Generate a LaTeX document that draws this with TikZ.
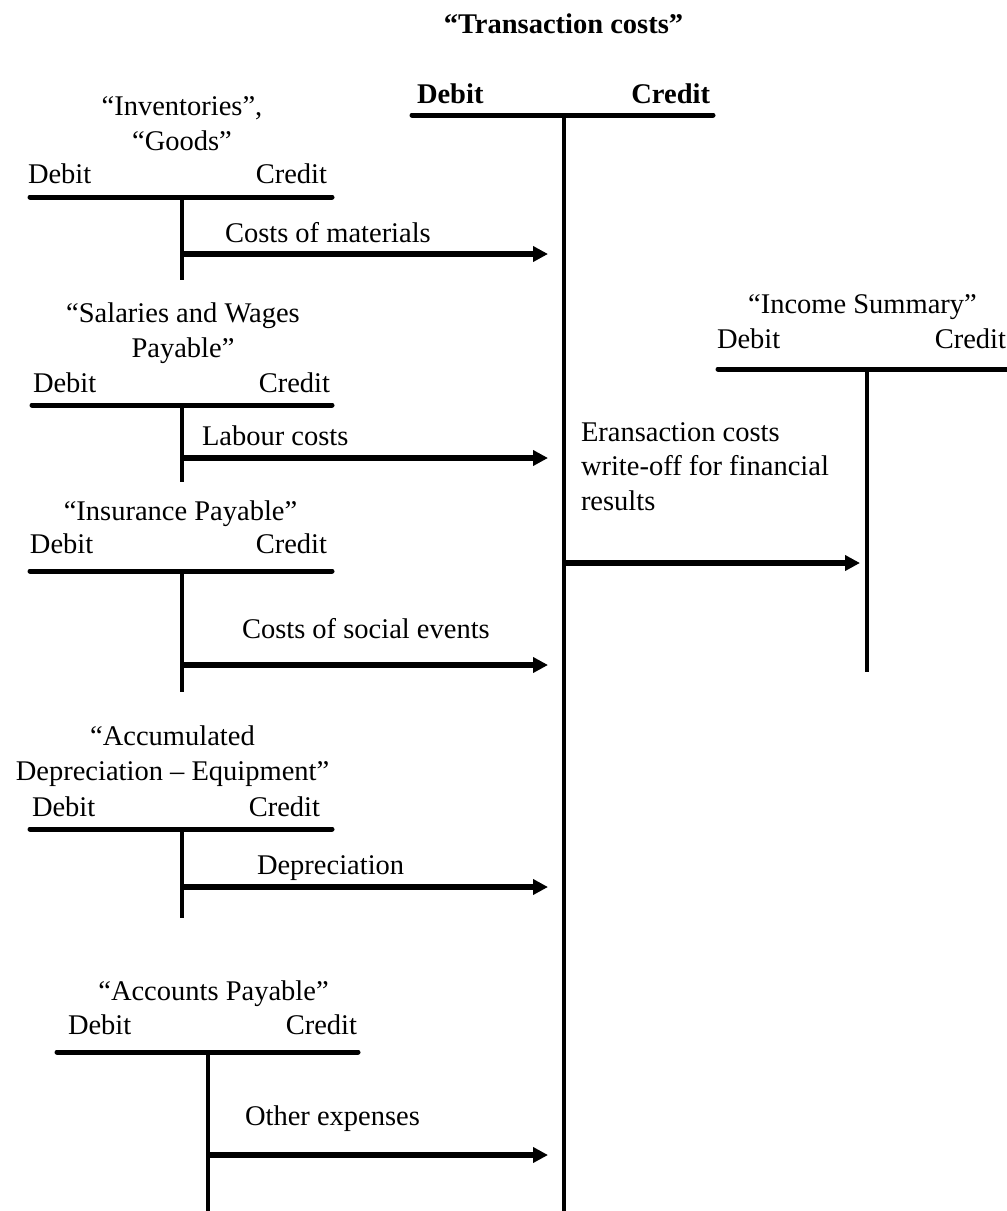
\documentclass[tikz,border=0pt]{standalone}
\usepackage{fontspec}
\setmainfont{Liberation Serif}
\usetikzlibrary{arrows.meta}
\begin{document}
\begin{tikzpicture}[x=1pt,y=-1pt,
  txt/.style={inner sep=0pt, outer sep=0pt, font=\fontsize{28.5}{34.5}\selectfont},
  btxt/.style={txt, font=\fontsize{28.5}{34.5}\selectfont\bfseries},
  ttl/.style={txt, anchor=base, align=center},
  lbl/.style={txt, anchor=base west},
  rlbl/.style={txt, anchor=base east},
  bar/.style={line width=5pt, line cap=round},
  stem/.style={line width=3.5pt},
  flow/.style={line width=5.5pt, -{Triangle[length=15pt,width=15pt]}}
]
\useasboundingbox (0,0) rectangle (1007,1211);

% ---------- main account: Transaction costs ----------
\node[btxt, anchor=base] (mtitle) at (563.5,33) {“Transaction costs”};
\node[btxt, anchor=base west] (mdeb) at (417,103) {Debit};
\node[btxt, anchor=base east] (mcre) at (710,103) {Credit};
\coordinate (ml) at (412,115);
\coordinate (mr) at (713,115);
\coordinate (mt) at (564,115);
\coordinate (mb) at (564,1211);
\draw[bar] (ml) -- (mr);
\draw[stem] (mt) -- (mb);

% ---------- Inventories / Goods ----------
\node[ttl] (t1) at (182,150) {“Inventories”,\\“Goods”};
\node[lbl] (d1) at (28,183) {Debit};
\node[rlbl] (c1) at (327,183) {Credit};
\coordinate (l1) at (30,197);
\coordinate (r1) at (332,197);
\coordinate (s1t) at (182,197);
\coordinate (s1b) at (182,280);
\draw[bar] (l1) -- (r1);
\draw[stem] (s1t) -- (s1b);
\coordinate (a1) at (182,254);
\coordinate (b1) at (548,254);
\draw[flow] (a1) -- (b1);
\node[lbl] (n1) at (225,242) {Costs of materials};

% ---------- Salaries and Wages Payable ----------
\node[ttl] (t2) at (183,357) {“Salaries and Wages\\Payable”};
\node[lbl] (d2) at (33,392) {Debit};
\node[rlbl] (c2) at (330,392) {Credit};
\coordinate (l2) at (32,405);
\coordinate (r2) at (332,405);
\coordinate (s2t) at (182,405);
\coordinate (s2b) at (182,482);
\draw[bar] (l2) -- (r2);
\draw[stem] (s2t) -- (s2b);
\coordinate (a2) at (182,458);
\coordinate (b2) at (548,458);
\draw[flow] (a2) -- (b2);
\node[lbl] (n2) at (202,445) {Labour costs};

% ---------- Insurance Payable ----------
\node[ttl] (t3) at (180.5,520) {“Insurance Payable”};
\node[lbl] (d3) at (30,553) {Debit};
\node[rlbl] (c3) at (327,553) {Credit};
\coordinate (l3) at (30,571);
\coordinate (r3) at (332,571);
\coordinate (s3t) at (182,571);
\coordinate (s3b) at (182,692);
\draw[bar] (l3) -- (r3);
\draw[stem] (s3t) -- (s3b);
\coordinate (a3) at (182,665);
\coordinate (b3) at (548,665);
\draw[flow] (a3) -- (b3);
\node[lbl] (n3) at (242,638) {Costs of social events};

% ---------- Accumulated Depreciation - Equipment ----------
\node[ttl] (t4) at (172.5,780) {“Accumulated\\Depreciation – Equipment”};
\node[lbl] (d4) at (32,816) {Debit};
\node[rlbl] (c4) at (320,816) {Credit};
\coordinate (l4) at (30,829);
\coordinate (r4) at (332,829);
\coordinate (s4t) at (182,829);
\coordinate (s4b) at (182,918);
\draw[bar] (l4) -- (r4);
\draw[stem] (s4t) -- (s4b);
\coordinate (a4) at (182,887);
\coordinate (b4) at (548,887);
\draw[flow] (a4) -- (b4);
\node[lbl] (n4) at (257,874) {Depreciation};

% ---------- Accounts Payable ----------
\node[ttl] (t5) at (213.5,1000) {“Accounts Payable”};
\node[lbl] (d5) at (68,1034) {Debit};
\node[rlbl] (c5) at (357,1034) {Credit};
\coordinate (l5) at (57,1052);
\coordinate (r5) at (358,1052);
\coordinate (s5t) at (208,1052);
\coordinate (s5b) at (208,1211);
\draw[bar] (l5) -- (r5);
\draw[stem] (s5t) -- (s5b);
\coordinate (a5) at (208,1155);
\coordinate (b5) at (548,1155);
\draw[flow] (a5) -- (b5);
\node[lbl] (n5) at (245,1125) {Other expenses};

% ---------- Income Summary ----------
\node[ttl] (t6) at (862.5,313) {“Income Summary”};
\node[lbl] (d6) at (717,348) {Debit};
\node[rlbl] (c6) at (1006,348) {Credit};
\coordinate (l6) at (718,369);
\coordinate (r6) at (1010,369);
\coordinate (s6t) at (867,369);
\coordinate (s6b) at (867,672);
\draw[bar] (l6) -- (r6);
\draw[stem] (s6t) -- (s6b);
\coordinate (a6) at (564,563);
\coordinate (b6) at (860,563);
\draw[flow] (a6) -- (b6);
\node[txt, anchor=base west, align=left] (n6) at (581,510) {Eransaction costs\\write-off for financial\\results};
\end{tikzpicture}
\end{document}
